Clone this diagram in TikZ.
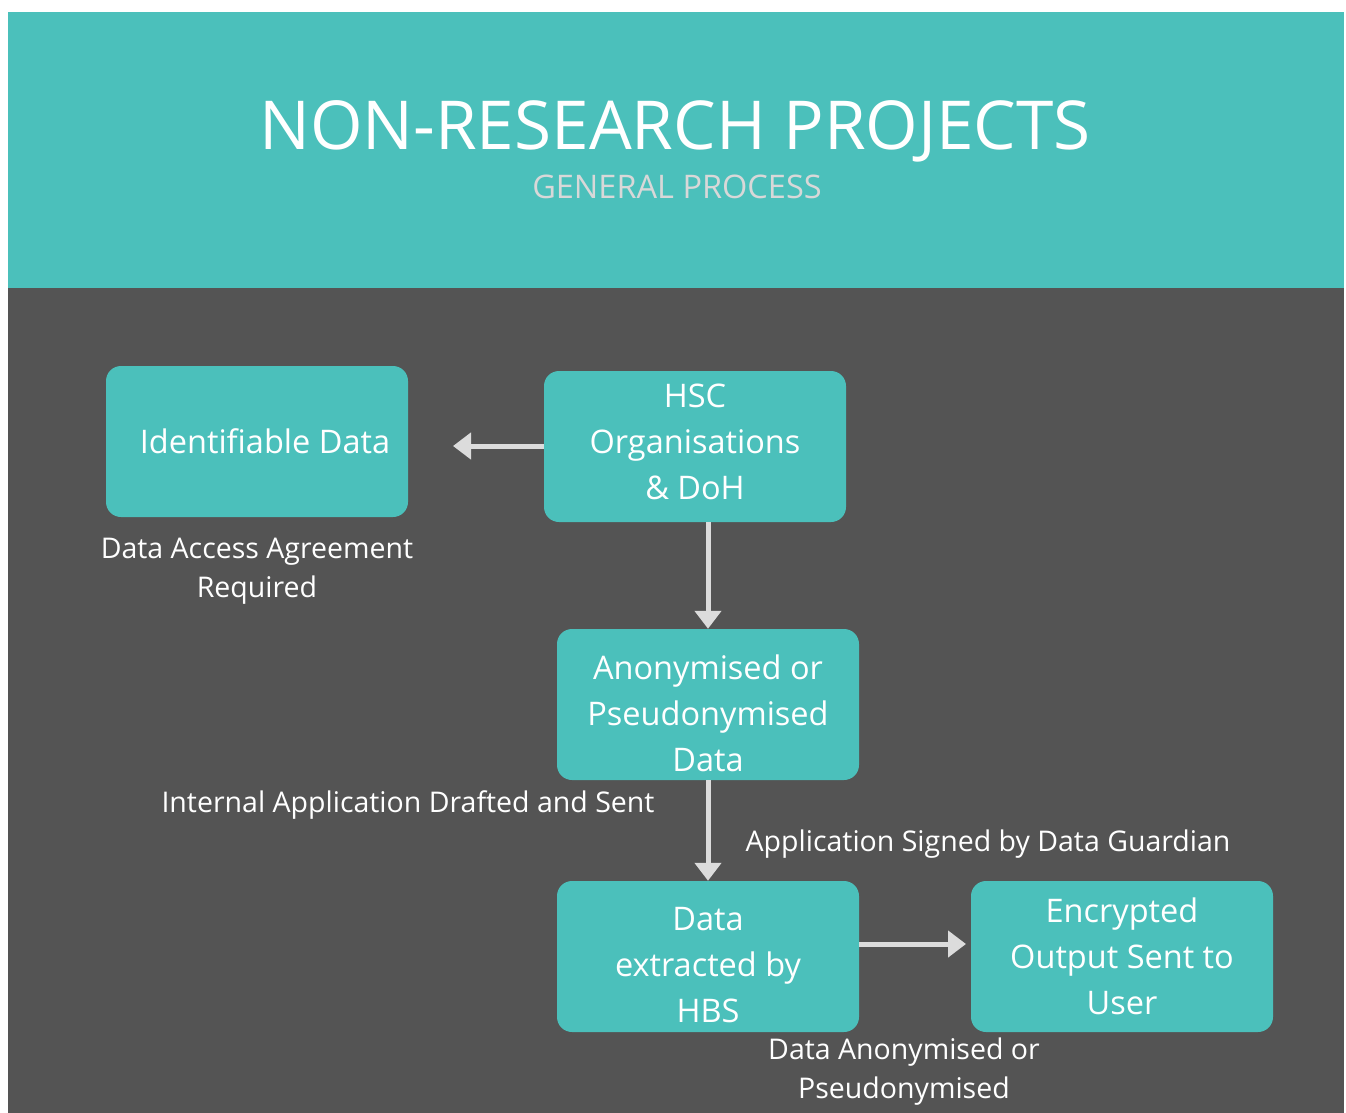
\documentclass[tikz,border=0pt]{standalone}
\usepackage{fontspec}
\setmainfont{Open Sans}
\usetikzlibrary{arrows.meta}
\definecolor{teal}{RGB}{75,192,187}
\definecolor{slate}{RGB}{84,84,84}
\definecolor{arrowgrey}{RGB}{220,220,220}
\definecolor{subgrey}{RGB}{216,216,216}
\tikzset{
  box/.style={fill=teal, rounded corners=15pt, minimum width=302pt, minimum height=151pt, inner sep=0pt},
  boxtext/.style={text=white, align=center, font=\fontsize{32.5}{46}\selectfont, inner sep=0pt},
  note/.style={text=white, align=center, font=\fontsize{28.5}{39}\selectfont, inner sep=0pt},
  flow/.style={draw=arrowgrey, line width=5pt, -{Triangle[width=26pt,length=18pt]}}
}
\begin{document}
\begin{tikzpicture}[x=1pt,y=-1pt]
        \useasboundingbox (0,0) rectangle (1346,1113);
        % Background panels
        \fill [teal] (8,12) rectangle (1344,288);%
        \fill [slate] (8,288) rectangle (1344,1113);%

        % Heading
        \node (title) at (675,131) [text=white, font=\fontsize{67.5}{80}\selectfont] {NON-RESEARCH PROJECTS};%
        \node (subtitle) at (677,187) [text=subgrey, font=\fontsize{32.5}{36}\selectfont] {GENERAL PROCESS};%

        % Boxes
        \node [box] (ident) at (257,441.5) {};%
        \node [boxtext] (identtext) at ([xshift=8pt]ident.center) {Identifiable Data};%
        \node [box] (hsc) at (695,446.5) {};%
        \node [boxtext] (hsctext) at ([yshift=5pt]hsc.center) {HSC\\Organisations\\\& DoH};%
        \node [box] (anon) at (708,704.5) {};%
        \node [boxtext] (anontext) at ([yshift=-9pt]anon.center) {Anonymised or\\Pseudonymised\\Data};%
        \node [box] (extract) at (708,956.5) {};%
        \node [boxtext] (extracttext) at ([yshift=-9pt]extract.center) {Data\\extracted by\\HBS};%
        \node [box] (output) at (1122,956.5) {};%
        \node [boxtext] (outputtext) at (output.center) {Encrypted\\Output Sent to\\User};%

        % Connectors
        \coordinate (identin) at (453,446);%
        \draw [flow] (hsc.west |- identin) -- (identin);%
        \draw [flow] (hsc.south -| anon.north) -- (anon.north);%
        \draw [flow] (anon.south) -- (extract.north);%
        \draw [flow] (extract.east |- 0,944) -- (966,944) coordinate (outputin);%

        % Notes
        \node [note] (dataaccess) at (257,571.5) {Data Access Agreement\\Required};%
        \node [note] (internal) at (408,805) {Internal Application Drafted and Sent};%
        \node [note] (signed) at (988,844) {Application Signed by Data Guardian};%
        \node [note] (anonnote) at (904,1071.5) {Data Anonymised or\\Pseudonymised};%
\end{tikzpicture}
\end{document}
